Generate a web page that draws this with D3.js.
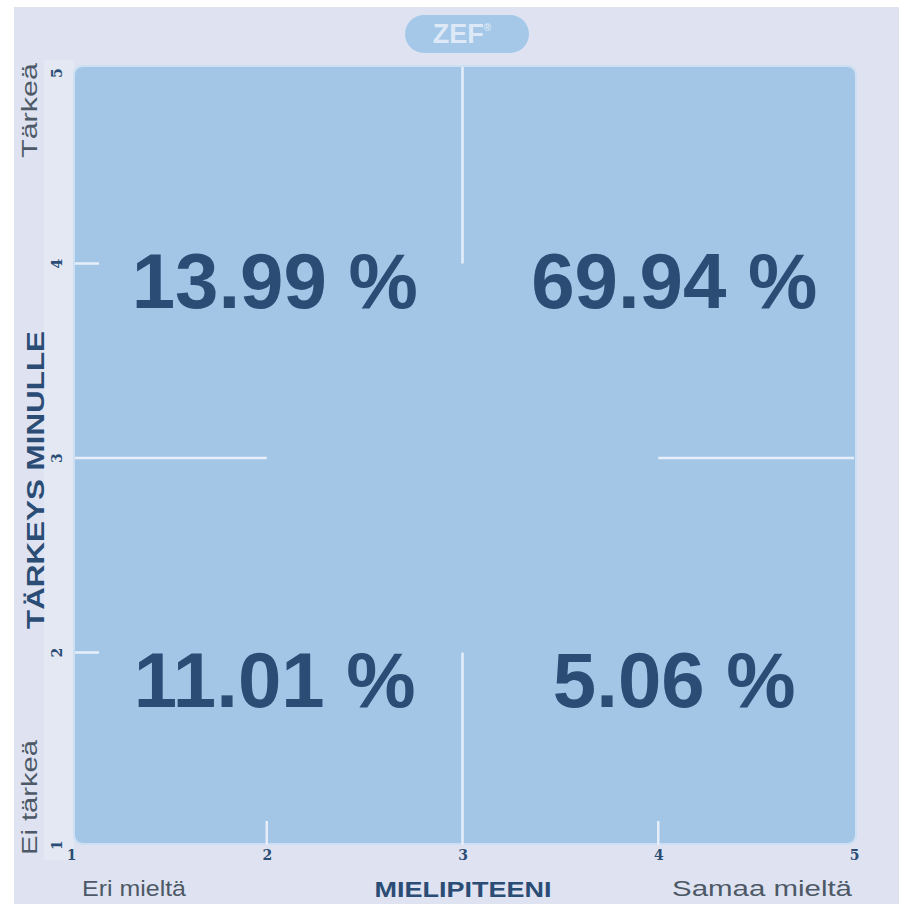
<!DOCTYPE html>
<html><head><meta charset="utf-8">
<script src="https://cdn.jsdelivr.net/npm/d3@7/dist/d3.min.js"></script>
<style>body{margin:0;background:#fff;}svg{display:block;}</style>
</head><body>
<script>
const xTicks = [1, 2, 3, 4, 5];
const yTicks = [1, 2, 3, 4, 5];
const quadrantX = [2, 4, 2, 4];
const quadrantY = [4, 4, 2, 2];
const percentages = [13.99, 69.94, 11.01, 5.06];
const xTitle = "MIELIPITEENI";
const yTitle = "TÄRKEYS MINULLE";
const xEndLabels = ["Eri mieltä", "Samaa mieltä"];
const yEndLabels = ["Ei tärkeä", "Tärkeä"];
const badge = "ZEF";

const W = 899, H = 904;
const svg = d3.select("body").append("svg").attr("width", W).attr("height", H);
const x = d3.scaleLinear().domain([1, 5]).range([71, 854]);
const y = d3.scaleLinear().domain([1, 5]).range([847, 69]);
const dark = "#2b4d75";
const grey = "#4d5966";

// background
svg.append("rect").attr("x", 14).attr("y", 7).attr("width", W - 14).attr("height", H - 7).attr("fill", "#dfe3f1");
svg.append("rect").attr("x", 44).attr("y", 60).attr("width", 30).attr("height", 800).attr("fill", "#e3e8f3");

// plot area
svg.append("rect").attr("x", x(1) + 2).attr("y", y(5) - 4).attr("width", x(5) - x(1) + 1).attr("height", y(1) - y(5) + 2)
  .attr("rx", 9).attr("fill", "#cddff2");
svg.append("rect").attr("x", x(1) + 4).attr("y", y(5) - 2).attr("width", x(5) - x(1) - 3).attr("height", y(1) - y(5) - 2)
  .attr("rx", 8).attr("fill", "#a3c6e7");

// grid lines
const lineCol = "#e6eff9";
const g = svg.append("g").attr("stroke", lineCol).attr("stroke-width", 2.5);
g.append("line").attr("x1", x(3)).attr("x2", x(3)).attr("y1", y(5) - 2).attr("y2", y(4));
g.append("line").attr("x1", x(3)).attr("x2", x(3)).attr("y1", y(2)).attr("y2", y(1) - 2);
g.append("line").attr("x1", x(1) + 4).attr("x2", x(2)).attr("y1", y(3)).attr("y2", y(3));
g.append("line").attr("x1", x(4)).attr("x2", x(5)).attr("y1", y(3)).attr("y2", y(3));
[2, 4].forEach(t => {
  g.append("line").attr("x1", x(1) + 4).attr("x2", x(1) + 28).attr("y1", y(t)).attr("y2", y(t));
  g.append("line").attr("x1", x(t)).attr("x2", x(t)).attr("y1", y(1) - 26).attr("y2", y(1) - 2);
});

// axes tick labels
const xAxis = d3.axisBottom(x).tickValues(xTicks).tickSize(0).tickPadding(3).tickFormat(d3.format("d"));
const xa = svg.append("g").attr("transform", `translate(0,${y(1)})`).call(xAxis);
xa.select(".domain").remove();
xa.selectAll("text").attr("font-family", "DejaVu Serif, serif").attr("font-weight", "bold")
  .attr("font-size", 14).attr("fill", dark);

yTicks.forEach(t => {
  svg.append("text").attr("transform", `translate(${x(1) - 9},${y(t) + (t === 5 ? 4 : t === 1 ? -2 : 0)}) rotate(-90)`)
    .attr("text-anchor", "middle").attr("font-family", "DejaVu Serif, serif").attr("font-weight", "bold")
    .attr("font-size", 14).attr("fill", dark).text(t);
});

// percentages
svg.selectAll("text.pct").data(percentages).enter().append("text").attr("class", "pct")
  .attr("x", (d, i) => x(quadrantX[i]) + 8 + (quadrantX[i] - 2) * 4)
  .attr("y", (d, i) => y(quadrantY[i]) + (quadrantY[i] === 4 ? 44 : 54))
  .attr("text-anchor", "middle")
  .attr("font-family", "Liberation Sans, Arial, sans-serif").attr("font-weight", "bold")
  .attr("font-size", 78).attr("fill", dark)
  .text(d => d.toFixed(2) + " %");

// axis titles
svg.append("text").attr("x", 463).attr("y", 897).attr("text-anchor", "middle")
  .attr("font-family", "Liberation Sans, Arial, sans-serif").attr("font-weight", "bold")
  .attr("font-size", 22).attr("textLength", 177).attr("lengthAdjust", "spacingAndGlyphs")
  .attr("fill", dark).text(xTitle);
svg.append("text").attr("transform", "translate(44,480) rotate(-90)").attr("text-anchor", "middle")
  .attr("font-family", "Liberation Sans, Arial, sans-serif").attr("font-weight", "bold")
  .attr("font-size", 24).attr("textLength", 298).attr("lengthAdjust", "spacingAndGlyphs")
  .attr("fill", dark).text(yTitle);

// end labels
svg.append("text").attr("x", 82).attr("y", 896).attr("font-family", "Liberation Sans, Arial, sans-serif")
  .attr("font-size", 22).attr("textLength", 104).attr("lengthAdjust", "spacingAndGlyphs").attr("fill", grey).text(xEndLabels[0]);
svg.append("text").attr("x", 852).attr("y", 896).attr("text-anchor", "end").attr("font-family", "Liberation Sans, Arial, sans-serif")
  .attr("font-size", 22).attr("textLength", 180).attr("lengthAdjust", "spacingAndGlyphs").attr("fill", grey).text(xEndLabels[1]);
svg.append("text").attr("transform", "translate(37,855) rotate(-90)").attr("font-family", "Liberation Sans, Arial, sans-serif")
  .attr("font-size", 22).attr("textLength", 115).attr("lengthAdjust", "spacingAndGlyphs").attr("fill", grey).text(yEndLabels[0]);
svg.append("text").attr("transform", "translate(37,158) rotate(-90)").attr("font-family", "Liberation Sans, Arial, sans-serif")
  .attr("font-size", 22).attr("textLength", 95).attr("lengthAdjust", "spacingAndGlyphs").attr("fill", grey).text(yEndLabels[1]);

// badge
svg.append("rect").attr("x", 405).attr("y", 15).attr("width", 124).attr("height", 38).attr("rx", 19).attr("fill", "#a5c8e8");
const bt = svg.append("text").attr("x", 462).attr("y", 43).attr("text-anchor", "middle")
  .attr("font-family", "Liberation Sans, Arial, sans-serif").attr("font-weight", "bold").attr("font-size", 27).attr("fill", "#dde9f6");
bt.append("tspan").text(badge);
bt.append("tspan").attr("font-size", 10).attr("dy", -12).text("®");
</script>
</body></html>
